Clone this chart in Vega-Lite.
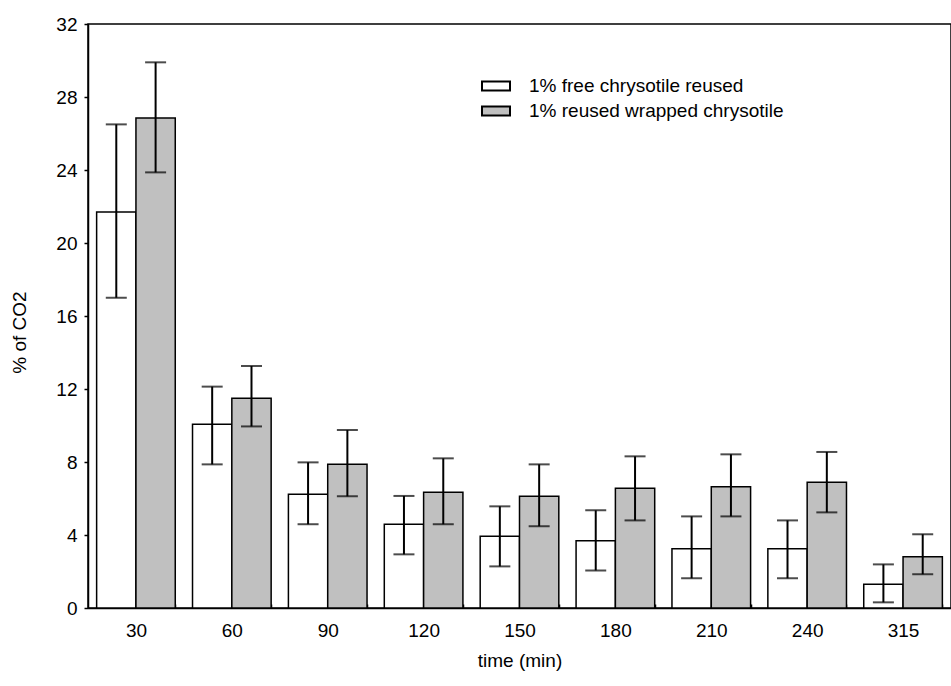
{
  "$schema": "https://vega.github.io/schema/vega-lite/v6.json",
  "autosize": "none",
  "padding": {"left": 88, "top": 24, "right": 0, "bottom": 78},
  "width": 863,
  "height": 584,
  "background": "white",
  "config": {
    "font": "Liberation Sans",
    "view": {"stroke": "black", "strokeWidth": 1.5},
    "axis": {"labelFont": "Liberation Sans", "titleFont": "Liberation Sans", "labelColor": "black", "titleColor": "black", "domainColor": "black", "tickColor": "black", "grid": false, "labelFontSize": 19, "titleFontSize": 19, "titleFontWeight": "normal", "domainWidth": 1.5, "tickWidth": 1.5},
    "legend": {"labelFont": "Liberation Sans", "labelFontSize": 19, "labelColor": "black"}
  },
  "data": {
    "values": [
      {"time": "30", "series": "1% free chrysotile reused", "value": 21.7, "lo": 17.0, "hi": 26.5},
      {"time": "30", "series": "1% reused wrapped chrysotile", "value": 26.85, "lo": 23.87, "hi": 29.9},
      {"time": "60", "series": "1% free chrysotile reused", "value": 10.07, "lo": 7.87, "hi": 12.13},
      {"time": "60", "series": "1% reused wrapped chrysotile", "value": 11.49, "lo": 9.95, "hi": 13.26},
      {"time": "90", "series": "1% free chrysotile reused", "value": 6.23, "lo": 4.59, "hi": 7.98},
      {"time": "90", "series": "1% reused wrapped chrysotile", "value": 7.87, "lo": 6.12, "hi": 9.75},
      {"time": "120", "series": "1% free chrysotile reused", "value": 4.59, "lo": 2.94, "hi": 6.14},
      {"time": "120", "series": "1% reused wrapped chrysotile", "value": 6.34, "lo": 4.59, "hi": 8.2},
      {"time": "150", "series": "1% free chrysotile reused", "value": 3.93, "lo": 2.28, "hi": 5.57},
      {"time": "150", "series": "1% reused wrapped chrysotile", "value": 6.12, "lo": 4.48, "hi": 7.87},
      {"time": "180", "series": "1% free chrysotile reused", "value": 3.69, "lo": 2.06, "hi": 5.35},
      {"time": "180", "series": "1% reused wrapped chrysotile", "value": 6.56, "lo": 4.8, "hi": 8.31},
      {"time": "210", "series": "1% free chrysotile reused", "value": 3.25, "lo": 1.63, "hi": 5.02},
      {"time": "210", "series": "1% reused wrapped chrysotile", "value": 6.65, "lo": 5.02, "hi": 8.42},
      {"time": "240", "series": "1% free chrysotile reused", "value": 3.25, "lo": 1.63, "hi": 4.8},
      {"time": "240", "series": "1% reused wrapped chrysotile", "value": 6.89, "lo": 5.24, "hi": 8.55},
      {"time": "315", "series": "1% free chrysotile reused", "value": 1.3, "lo": 0.31, "hi": 2.39},
      {"time": "315", "series": "1% reused wrapped chrysotile", "value": 2.81, "lo": 1.85, "hi": 4.04}
    ]
  },
  "encoding": {
    "x": {
      "field": "time", "type": "nominal", "sort": null,
      "scale": {"paddingInner": 0.18, "paddingOuter": 0.09},
      "axis": {"title": "time (min)", "labelAngle": 0, "tickBand": "extent", "tickSize": -4, "labelPadding": 17, "titleY": 52, "titleBaseline": "middle"}
    },
    "xOffset": {"field": "series", "type": "nominal", "sort": ["1% free chrysotile reused", "1% reused wrapped chrysotile"], "scale": {"paddingInner": 0, "paddingOuter": 0}}
  },
  "layer": [
    {
      "mark": {"type": "bar", "stroke": "black", "strokeWidth": 1.5},
      "encoding": {
        "y": {"field": "value", "type": "quantitative", "scale": {"domain": [0, 32], "nice": false}, "axis": {"title": "% of CO2", "values": [0, 4, 8, 12, 16, 20, 24, 28, 32], "tickSize": 4, "labelPadding": 7, "titleX": -69, "titleY": 308, "titleAngle": -90, "titleAlign": "center", "titleBaseline": "middle"}},
        "fill": {
          "field": "series", "type": "nominal",
          "scale": {"domain": ["1% free chrysotile reused", "1% reused wrapped chrysotile"], "range": ["#ffffff", "#c0c0c0"]},
          "legend": {"title": null, "orient": "none", "legendX": 393, "legendY": 47, "symbolType": "M-1,-0.32H1V0.32H-1Z", "symbolSize": 784, "symbolStrokeColor": "black", "symbolStrokeWidth": 2, "labelFontSize": 19, "labelLimit": 0, "rowPadding": 0, "labelOffset": 18}
        }
      }
    },
    {
      "mark": {"type": "rule", "color": "black", "strokeWidth": 2},
      "encoding": {
        "y": {"field": "lo", "type": "quantitative"},
        "y2": {"field": "hi"}
      }
    },
    {
      "mark": {"type": "tick", "color": "black", "thickness": 2, "size": 21},
      "encoding": {"y": {"field": "lo", "type": "quantitative"}}
    },
    {
      "mark": {"type": "tick", "color": "black", "thickness": 2, "size": 21},
      "encoding": {"y": {"field": "hi", "type": "quantitative"}}
    }
  ]
}
